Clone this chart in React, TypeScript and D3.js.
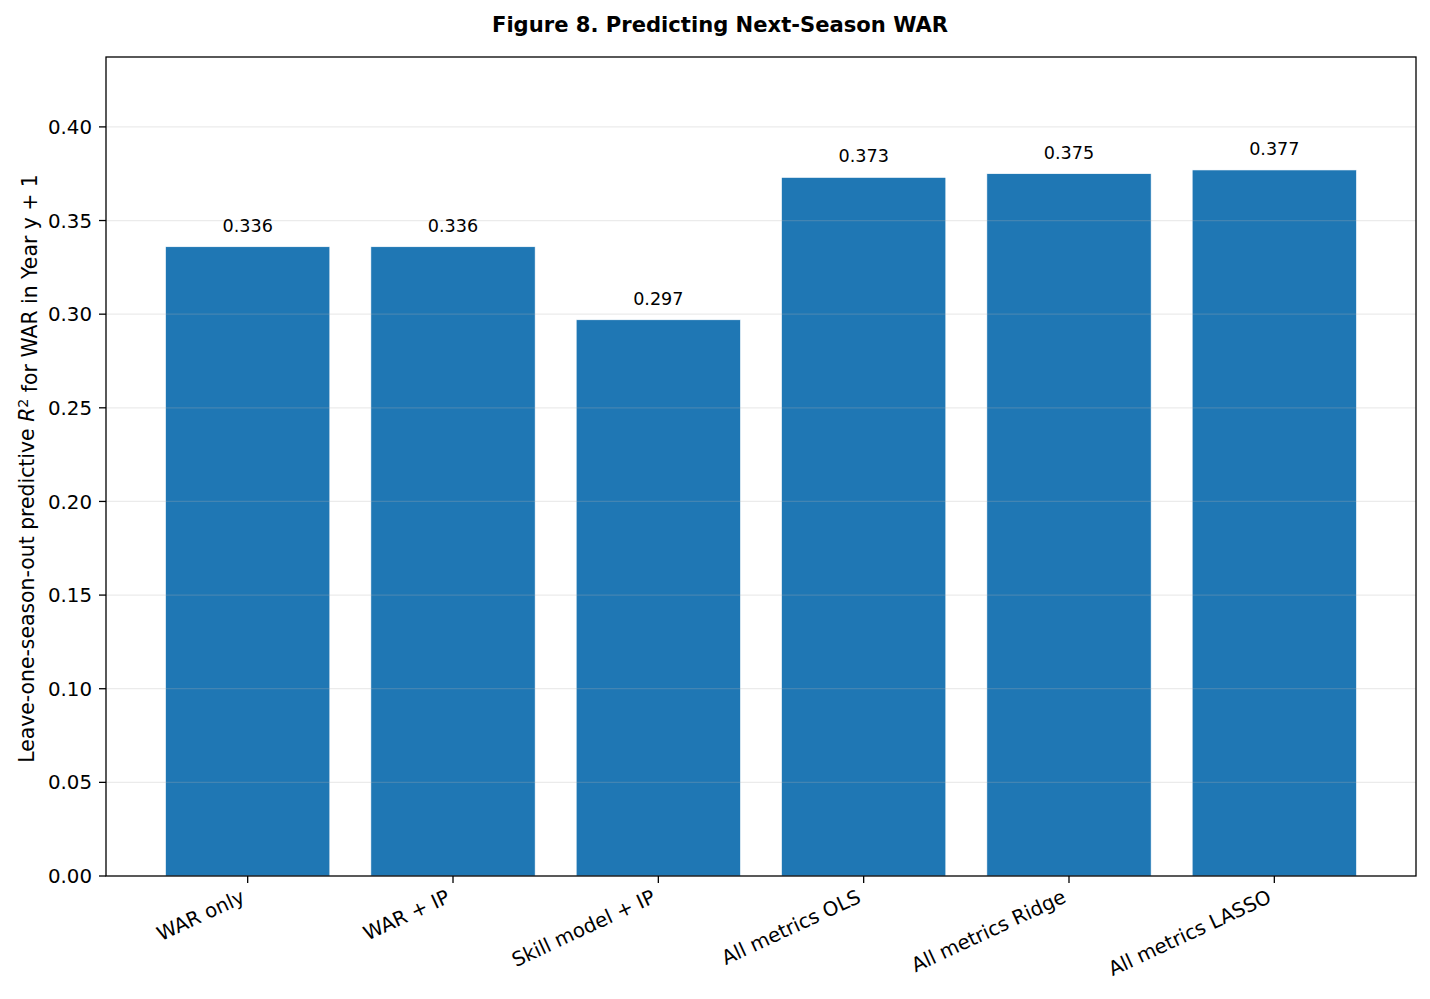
import * as d3 from "d3";

const models = [
  "WAR only",
  "WAR + IP",
  "Skill model + IP",
  "All metrics OLS",
  "All metrics Ridge",
  "All metrics LASSO",
];
const r2Values = [0.336, 0.336, 0.297, 0.373, 0.375, 0.377];
const yTicks = [0, 0.05, 0.1, 0.15, 0.2, 0.25, 0.3, 0.35, 0.4];

const width = 1430;
const height = 999;
const margin = { top: 57, right: 14, bottom: 123, left: 106 };
const font = "'DejaVu Sans', sans-serif";
const tickSize = 19.8;

export default function App() {
  const innerBottom = height - margin.bottom;
  const innerRight = width - margin.right;

  const x = d3
    .scaleBand<string>()
    .domain(models)
    .range([margin.left, innerRight])
    .paddingInner(0.2)
    .paddingOuter(0.29);
  const y = d3
    .scaleLinear()
    .domain([0, (d3.max(r2Values) ?? 0) * 1.16])
    .range([innerBottom, margin.top]);

  return (
    <svg width={width} height={height} style={{ position: "absolute", left: 0, top: 0 }} fontFamily={font}>
      <rect width={width} height={height} fill="#fff" />
      <text x={720} y={32} textAnchor="middle" fontSize={21.1} fontWeight="bold">
        Figure 8. Predicting Next-Season WAR
      </text>

      {models.map((m, i) => (
        <rect
          key={m}
          x={x(m)}
          y={y(r2Values[i])}
          width={x.bandwidth()}
          height={innerBottom - y(r2Values[i])}
          fill="#1f77b4"
          stroke="#fff"
          strokeWidth={0.6}
        />
      ))}

      {yTicks.slice(1).map((t) => (
        <line key={t} x1={margin.left} x2={innerRight} y1={y(t)} y2={y(t)} stroke="#b0b0b0" strokeOpacity={0.25} strokeWidth={1.3} />
      ))}

      {models.map((m, i) => (
        <text
          key={m}
          x={(x(m) ?? 0) + x.bandwidth() / 2}
          y={y(r2Values[i]) - 15}
          textAnchor="middle"
          fontSize={17.6}
        >
          {r2Values[i].toFixed(3)}
        </text>
      ))}

      <rect
        x={margin.left}
        y={margin.top}
        width={innerRight - margin.left}
        height={innerBottom - margin.top}
        fill="none"
        stroke="#000"
        strokeWidth={1.3}
      />

      {yTicks.map((t) => (
        <g key={t}>
          <line x1={margin.left - 7} x2={margin.left} y1={y(t)} y2={y(t)} stroke="#000" strokeWidth={1.3} />
          <text x={margin.left - 14} y={y(t)} dy="0.36em" textAnchor="end" fontSize={tickSize}>
            {t.toFixed(2)}
          </text>
        </g>
      ))}

      {models.map((m) => {
        const cx = (x(m) ?? 0) + x.bandwidth() / 2;
        return (
          <g key={m}>
            <line x1={cx} x2={cx} y1={innerBottom} y2={innerBottom + 7} stroke="#000" strokeWidth={1.3} />
            <text
              transform={`translate(${cx - 8},${innerBottom + 12}) rotate(-25)`}
              textAnchor="end"
              dy="0.76em"
              fontSize={tickSize}
            >
              {m}
            </text>
          </g>
        );
      })}

      <text
        transform={`translate(34,${(margin.top + innerBottom) / 2 + 2}) rotate(-90)`}
        textAnchor="middle"
        fontSize={20.4}
      >
        Leave-one-season-out predictive <tspan fontStyle="italic">R</tspan>
        <tspan dy="-0.45em" fontSize="0.7em">2</tspan>
        <tspan dy="0.45em"> for WAR in Year y + 1</tspan>
      </text>
    </svg>
  );
}
